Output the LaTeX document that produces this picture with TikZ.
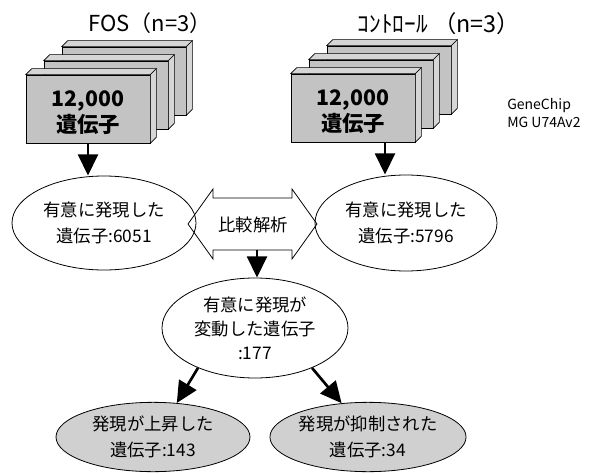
\documentclass[tikz,border=0pt]{standalone}
\usepackage{fontspec}
\setmainfont{Noto Sans CJK JP}
\usetikzlibrary{arrows.meta,shapes.geometric}
\definecolor{cardgray}{HTML}{C3C3C3}
\definecolor{sidegray}{HTML}{D6D6D6}
\definecolor{ellgray}{HTML}{D0D0D0}
\newcommand\cardsides[1]{%
  \filldraw[fill=sidegray, draw=black, line width=0.5pt] (#1.north west) -- ++(6,-6) -- ([shift={(6,-6)}]#1.north east) -- (#1.north east) -- cycle;
  \filldraw[fill=sidegray, draw=black, line width=0.5pt] (#1.north east) -- ++(6,-6) -- ([shift={(6,-6)}]#1.south east) -- (#1.south east) -- cycle;}
\begin{document}
\begin{tikzpicture}[x=0.75pt,y=-0.75pt,
  every node/.style={align=center, inner sep=0pt},
  card/.style={draw=black, line width=0.5pt, fill=cardgray, minimum width=93pt, minimum height=51pt},
  cardtext/.style={font=\fontsize{16}{19.5}\selectfont\bfseries},
  ttl/.style={font=\fontsize{16.5}{18}\selectfont},
  ell/.style={ellipse, draw=black, line width=0.6pt, font=\fontsize{13}{20}\selectfont},
  arr/.style={line width=2pt, -{Triangle[width=15pt,length=16pt]}}]
\useasboundingbox (0,0) rectangle (606,474);
\fill[white] (0,0) rectangle (606,474);

% titles
\node[ttl] (tFOS) at (150,23) {FOS（n=3）};
\node[ttl, font=\fontsize{17.5}{18}\selectfont] (tCTL) at (439,24) {ｺﾝﾄﾛｰﾙ （n=3）};
\node[font=\fontsize{10.5}{14}\selectfont, align=left, anchor=west] (chip) at (507,113) {GeneChip\\MG U74Av2};

% left card stack
\node[card] (fosC) at (124,81) {};
\cardsides{fosC}
\node[card] (fosB) at (106,95) {};
\cardsides{fosB}
\node[card] (fosA) at (88,109) {};
\cardsides{fosA}
\node[cardtext] (fosT) at ([yshift=-3pt]fosA.center) {12,000\\遺伝子};

% right card stack
\node[card] (ctlC) at (389,80) {};
\cardsides{ctlC}
\node[card] (ctlB) at (371,94) {};
\cardsides{ctlB}
\node[card] (ctlA) at (353,108) {};
\cardsides{ctlA}
\node[cardtext] (ctlT) at ([yshift=-3pt]ctlA.center) {12,000\\遺伝子};

% ellipses
\node[ell, minimum width=138pt, minimum height=70.5pt] (e1) at (104,223) {有意に発現した\\遺伝子:6051};
\node[ell, minimum width=136.5pt, minimum height=72pt] (e2) at (406,223) {有意に発現した\\遺伝子:5796};
\node[ell, font=\fontsize{13}{18}\selectfont, minimum width=139.5pt, minimum height=75pt] (e3) at (255,328) {有意に発現が\\変動した遺伝子\\:177};
\node[ell, fill=ellgray, minimum width=145.5pt, minimum height=52pt] (e4) at (153,437) {発現が上昇した\\遺伝子:143};
\node[ell, fill=ellgray, minimum width=145.5pt, minimum height=52pt] (e5) at (368,437) {発現が抑制された\\遺伝子:34};

% comparison double arrow
\node[font=\fontsize{13}{18}\selectfont] (cmp) at (253,225) {比較解析};
\draw[line width=0.6pt] (cmp.center) ++(-65,-1) -- ++(25,-35) -- ++(0,9) -- ++(79,0) -- ++(0,-9)
  -- ++(25,35) -- ++(-25,35) -- ++(0,-9) -- ++(-79,0) -- ++(0,9) -- cycle;
\coordinate (cmpB) at ([shift={(4,25)}]cmp.center);

% connectors
\draw[arr] (fosA.south) -- (fosA.south |- e1.north);
\draw[arr] ([xshift=24pt]ctlA.south) -- ([xshift=24pt]ctlA.south |- e2.north);
\draw[arr] (cmpB) -- (cmpB |- e3.north);
\draw[arr] (e3.215) -- (e4.55);
\draw[arr] (e3.325) -- (e5.128);
\end{tikzpicture}
\end{document}
